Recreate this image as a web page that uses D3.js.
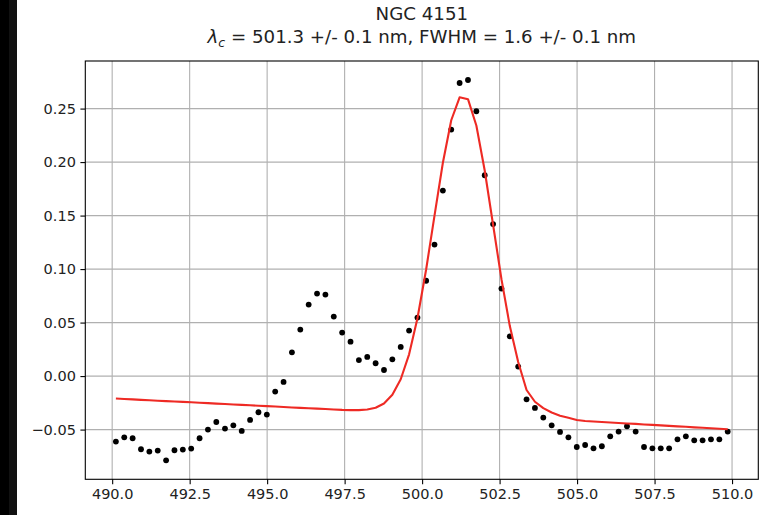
<!DOCTYPE html>
<html lang="en">
<head>
  <meta charset="UTF-8" />
  <title>NGC 4151 line fit</title>
  <script src="https://cdn.jsdelivr.net/npm/d3@7"></script>
  <style>
    body {
      margin: 0;
      background-color: white;
      font-family: "DejaVu Sans", sans-serif;
    }
    svg text {
      fill: #222;
    }
  </style>
</head>
<body>
  <div id="chart"></div>

  <script>
    // Wavelength (nm) of each sample
    const wavelength = [
      490.12, 490.39, 490.66, 490.93, 491.20, 491.47, 491.74, 492.01, 492.28, 492.55,
      492.82, 493.09, 493.36, 493.64, 493.91, 494.18, 494.45, 494.72, 494.99, 495.26,
      495.53, 495.80, 496.07, 496.34, 496.61, 496.88, 497.15, 497.42, 497.69, 497.96,
      498.23, 498.50, 498.77, 499.04, 499.31, 499.58, 499.85, 500.13, 500.40, 500.67,
      500.94, 501.21, 501.48, 501.75, 502.02, 502.29, 502.56, 502.83, 503.10, 503.37,
      503.64, 503.91, 504.18, 504.45, 504.72, 504.99, 505.26, 505.53, 505.80, 506.07,
      506.34, 506.61, 506.89, 507.16, 507.43, 507.70, 507.97, 508.24, 508.51, 508.78,
      509.05, 509.32, 509.59, 509.86
    ];

    // Measured flux (black dots)
    const flux = [
      -0.0612, -0.0572, -0.0581, -0.0684, -0.0706, -0.0696, -0.0787, -0.0693, -0.0687, -0.0678,
      -0.0581, -0.0500, -0.0429, -0.0491, -0.0460, -0.0513, -0.0410, -0.0338, -0.0360, -0.0145,
      -0.0055, 0.0222, 0.0435, 0.0668, 0.0771, 0.0762, 0.0556, 0.0407, 0.0322, 0.0150,
      0.0179, 0.0120, 0.0057, 0.0157, 0.0272, 0.0425, 0.0547, 0.0891, 0.1229, 0.1734,
      0.2304, 0.2739, 0.2767, 0.2475, 0.1877, 0.1421, 0.0818, 0.0372, 0.0089, -0.0217,
      -0.0298, -0.0388, -0.0460, -0.0522, -0.0572, -0.0663, -0.0644, -0.0675, -0.0656, -0.0563,
      -0.0519, -0.0469, -0.0519, -0.0663, -0.0675, -0.0675, -0.0675, -0.0591, -0.0563, -0.0600,
      -0.0600, -0.0591, -0.0591, -0.0519
    ];

    // Fitted model (red line)
    const fit = [
      -0.0210, -0.0214, -0.0218, -0.0222, -0.0226, -0.0230, -0.0234, -0.0237, -0.0241, -0.0245,
      -0.0249, -0.0253, -0.0257, -0.0261, -0.0265, -0.0269, -0.0273, -0.0277, -0.0281, -0.0285,
      -0.0289, -0.0293, -0.0297, -0.0300, -0.0304, -0.0308, -0.0312, -0.0316, -0.0318, -0.0318,
      -0.0313, -0.0296, -0.0256, -0.0175, -0.0030, 0.0203, 0.0541, 0.0996, 0.1499, 0.1994,
      0.2391, 0.2605, 0.2588, 0.2342, 0.1921, 0.1414, 0.0906, 0.0467, 0.0131, -0.0130,
      -0.0240, -0.0300, -0.0340, -0.0370, -0.0390, -0.0410, -0.0420, -0.0425, -0.0429, -0.0434,
      -0.0438, -0.0443, -0.0447, -0.0452, -0.0456, -0.0461, -0.0465, -0.0470, -0.0474, -0.0479,
      -0.0483, -0.0488, -0.0492, -0.0497
    ];

    const xTicks = [490.0, 492.5, 495.0, 497.5, 500.0, 502.5, 505.0, 507.5, 510.0];
    const yTicks = [-0.05, 0.00, 0.05, 0.10, 0.15, 0.20, 0.25];

    const titleLine1 = "NGC 4151";
    const titleLine2 = " = 501.3 +/- 0.1 nm, FWHM = 1.6 +/- 0.1 nm";

    const W = 769, H = 515;
    const plot = {left: 85.3, right: 758.3, top: 61, bottom: 479.3};

    const svg = d3.select("#chart")
      .append("svg")
        .attr("width", W)
        .attr("height", H);

    svg.append("rect").attr("width", W).attr("height", H).attr("fill", "white");
    // dark strip on the left edge of the screenshot
    svg.append("rect").attr("x", 0).attr("y", 0).attr("width", 9).attr("height", H).attr("fill", "#000");
    svg.append("rect").attr("x", 9).attr("y", 0).attr("width", 8).attr("height", H).attr("fill", "#111");

    // matplotlib style 5% margins
    function padded(lo, hi) {
      const m = (hi - lo) * 0.05;
      return [lo - m, hi + m];
    }
    const xDom = padded(d3.min(wavelength), d3.max(wavelength));
    const allY = flux.concat(fit);
    const yDom = padded(d3.min(allY), d3.max(allY));

    const x = d3.scaleLinear().domain(xDom).range([plot.left, plot.right]);
    const y = d3.scaleLinear().domain(yDom).range([plot.bottom, plot.top]);

    // grid
    const grid = svg.append("g");
    grid.selectAll("line.gx")
      .data(xTicks)
      .join("line")
        .attr("x1", d => x(d)).attr("x2", d => x(d))
        .attr("y1", plot.top).attr("y2", plot.bottom)
        .attr("stroke", "#b0b0b0").attr("stroke-width", 1.1);
    grid.selectAll("line.gy")
      .data(yTicks)
      .join("line")
        .attr("x1", plot.left).attr("x2", plot.right)
        .attr("y1", d => y(d)).attr("y2", d => y(d))
        .attr("stroke", "#b0b0b0").attr("stroke-width", 1.1);

    // dots
    svg.append("g")
      .selectAll("circle")
      .data(wavelength)
      .join("circle")
        .attr("cx", d => x(d))
        .attr("cy", (d, i) => y(flux[i]))
        .attr("r", 2.9)
        .attr("fill", "#000");

    // fitted line
    svg.append("path")
      .datum(wavelength)
      .attr("fill", "none")
      .attr("stroke", "#ee2a24")
      .attr("stroke-width", 2.1)
      .attr("stroke-linejoin", "round")
      .attr("d", d3.line()
        .x(d => x(d))
        .y((d, i) => y(fit[i]))
      );

    // axes
    const xAxis = svg.append("g")
      .attr("transform", `translate(0,${plot.bottom})`)
      .call(d3.axisBottom(x).tickValues(xTicks).tickFormat(d3.format(".1f")).tickSize(4.9).tickPadding(4.5));
    const yAxis = svg.append("g")
      .attr("transform", `translate(${plot.left},0)`)
      .call(d3.axisLeft(y).tickValues(yTicks).tickFormat(d3.format(".2f")).tickSize(4.9).tickPadding(4.5));

    [xAxis, yAxis].forEach(a => {
      a.select(".domain").remove();
      a.selectAll(".tick line").attr("stroke", "#000").attr("stroke-width", 1.1);
      a.selectAll(".tick text")
        .style("font-family", "'DejaVu Sans', sans-serif")
        .style("font-size", "14.5px")
        .attr("fill", "#222");
    });

    // frame
    svg.append("rect")
      .attr("x", plot.left).attr("y", plot.top)
      .attr("width", plot.right - plot.left)
      .attr("height", plot.bottom - plot.top)
      .attr("fill", "none")
      .attr("stroke", "#000")
      .attr("stroke-width", 1.1);

    // title
    const cx = (plot.left + plot.right) / 2;
    svg.append("text")
      .attr("x", cx).attr("y", 20)
      .attr("text-anchor", "middle")
      .style("font-size", "18.2px")
      .text(titleLine1);

    const t2 = svg.append("text")
      .attr("x", cx).attr("y", 43)
      .attr("text-anchor", "middle")
      .style("font-size", "18.2px");
    t2.append("tspan").style("font-style", "italic").text("\u03bb");
    t2.append("tspan").style("font-style", "italic").style("font-size", "12.5px").attr("dy", 4).text("c");
    t2.append("tspan").attr("dy", -4).text(titleLine2);
  </script>
</body>
</html>
